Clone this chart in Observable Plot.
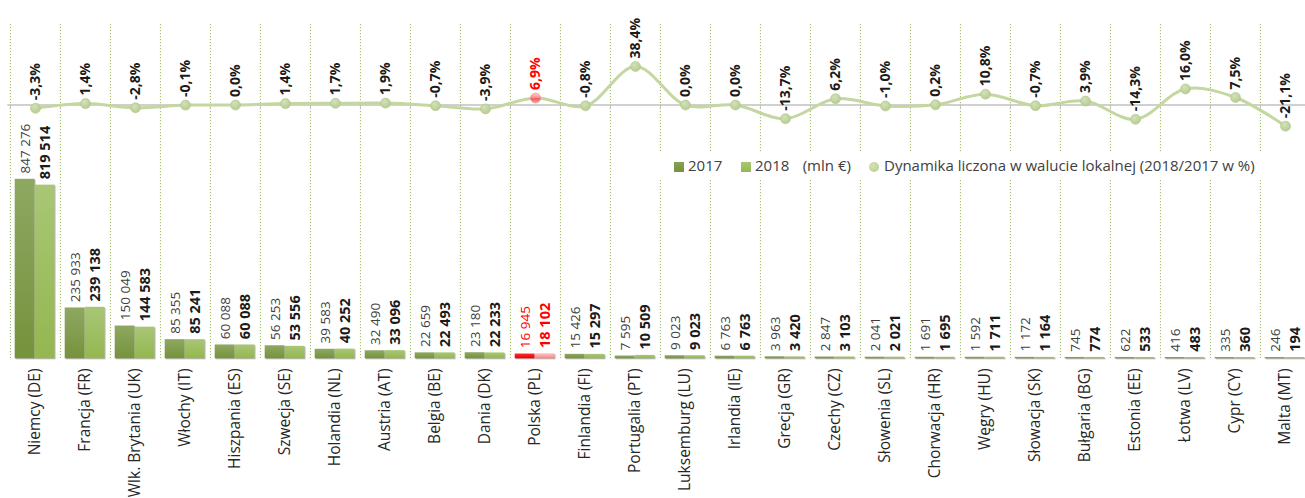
<!DOCTYPE html>
<html>
<head>
<meta charset="utf-8">
<script src="https://cdn.jsdelivr.net/npm/d3@7"></script>
<script src="https://cdn.jsdelivr.net/npm/@observablehq/plot@0.6"></script>
<style>
  html, body { margin: 0; padding: 0; background: white; }
  #wrap { position: relative; width: 1305px; height: 498px; overflow: hidden; font-family: "Open Sans", sans-serif; }
  #wrap svg { position: absolute; left: 0; top: 0; }
  .lg { position: absolute; font-size: 15px; line-height: 15px; color: #404040; white-space: nowrap; }
</style>
</head>
<body>
<div id="wrap"></div>
<script>
const countries = ["Niemcy (DE)", "Francja (FR)", "Wlk. Brytania (UK)", "Włochy (IT)", "Hiszpania (ES)", "Szwecja (SE)", "Holandia (NL)", "Austria (AT)", "Belgia (BE)", "Dania (DK)", "Polska (PL)", "Finlandia (FI)", "Portugalia (PT)", "Luksemburg (LU)", "Irlandia (IE)", "Grecja (GR)", "Czechy (CZ)", "Słowenia (SL)", "Chorwacja (HR)", "Węgry (HU)", "Słowacja (SK)", "Bułgaria (BG)", "Estonia (EE)", "Łotwa (LV)", "Cypr (CY)", "Malta (MT)"];
const values2017 = [847276, 235933, 150049, 85355, 60088, 56253, 39583, 32490, 22659, 23180, 16945, 15426, 7595, 9023, 6763, 3963, 2847, 2041, 1691, 1592, 1172, 745, 622, 416, 335, 246];
const values2018 = [819514, 239138, 144583, 85241, 60088, 53556, 40252, 33096, 22493, 22233, 18102, 15297, 10509, 9023, 6763, 3420, 3103, 2021, 1695, 1711, 1164, 774, 533, 483, 360, 194];
const dynamics = [-3.3, 1.4, -2.8, -0.1, 0.0, 1.4, 1.7, 1.9, -0.7, -3.9, 6.9, -0.8, 38.4, 0.0, 0.0, -13.7, 6.2, -1.0, 0.2, 10.8, -0.7, 3.9, -14.3, 16.0, 7.5, -21.1];
const highlight = "Polska (PL)";
const legendLabels = ["2017", "2018", "(mln €)", "Dynamika liczona w walucie lokalnej (2018/2017 w %)"];

const rows = countries.map((c, i) => ({c, v17: values2017[i], v18: values2018[i], d: dynamics[i]}));
const fmtNum = v => d3.format(",")(v).replace(/,/g, " ");
const fmtPct = v => v.toFixed(1).replace(".", ",") + "%";
const isPL = d => d.c === highlight;

const W = 1305, H = 498;
const X0 = 7.3, X1 = 1311.7;
const bw = (X1 - X0) / countries.length;
const xScale = {type: "band", domain: countries, range: [X0, X1], padding: 0};
const baseStyle = {background: "transparent", overflow: "visible", fontFamily: "Open Sans", fontSize: "15px", color: "#404040"};

const bars = Plot.plot({
  width: W, height: H,
  marginTop: 24, marginBottom: 140, marginLeft: X0, marginRight: W - X1,
  x: xScale,
  y: {domain: [0, 847276], range: [358.3, 180], axis: null},
  color: {type: "identity"},
  style: baseStyle,
  marks: [
    Plot.ruleX(countries, {x: d => d, dx: -bw / 2, stroke: "#9bbb59", strokeWidth: 1, strokeDasharray: "1.2,1.8"}),
    Plot.barY(rows, {x: "c", y: "v17", fill: d => isPL(d) ? "url(#gP17)" : "url(#g17)", insetLeft: 4.7, insetRight: bw - 24.7, insetTop: -1.2}),
    Plot.barY(rows, {x: "c", y: "v18", fill: d => isPL(d) ? "url(#gP18)" : "url(#g18)", insetLeft: 24.7, insetRight: bw - 44.7, insetTop: -1.2}),
    Plot.text(rows, {x: "c", y: "v17", text: d => fmtNum(d.v17), rotate: -90, textAnchor: "start", dx: -10.2, dy: -7, fontSize: 13.5, fill: d => isPL(d) ? "#ff0000" : "#404040"}),
    Plot.text(rows, {x: "c", y: "v18", text: d => fmtNum(d.v18), rotate: -90, textAnchor: "start", dx: 9.8, dy: -7, fontSize: 14.5, fontWeight: "bold", fill: d => isPL(d) ? "#ff0000" : "#1a1a1a"}),
    Plot.axisX({anchor: "bottom", tickRotate: -90, tickSize: 0, tickPadding: 10, fontSize: 15.5, label: null, fill: "#262626"})
  ]
});

const defs = document.createElementNS("http://www.w3.org/2000/svg", "defs");
defs.innerHTML = `
  <linearGradient id="g17" x1="0" y1="0" x2="0" y2="1"><stop offset="0" stop-color="#8ea862"/><stop offset="1" stop-color="#76923c"/></linearGradient>
  <linearGradient id="g18" x1="0" y1="0" x2="0" y2="1"><stop offset="0" stop-color="#a9c676"/><stop offset="1" stop-color="#94b74f"/></linearGradient>
  <linearGradient id="gP17" x1="0" y1="0" x2="0" y2="1"><stop offset="0" stop-color="#ff2a2a"/><stop offset="1" stop-color="#e60000"/></linearGradient>
  <linearGradient id="gP18" x1="0" y1="0" x2="0" y2="1"><stop offset="0" stop-color="#ffc4c4"/><stop offset="1" stop-color="#ff7f7f"/></linearGradient>
  <radialGradient id="gDot" cx="0.4" cy="0.35" r="0.7"><stop offset="0" stop-color="#d3e2b8"/><stop offset="1" stop-color="#b5ca8e"/></radialGradient>
  <linearGradient id="gDotP" x1="0" y1="0" x2="0" y2="1"><stop offset="0" stop-color="#ffd0d0"/><stop offset="0.45" stop-color="#ff8c8c"/><stop offset="0.55" stop-color="#f06060"/><stop offset="1" stop-color="#f7a6a6"/></linearGradient>`;
bars.prepend(defs);
bars.querySelectorAll('g[aria-label="bar"] rect').forEach(r => { r.style.filter = "drop-shadow(1px 1px 0.6px rgba(0,0,0,0.28))"; });

const line = Plot.plot({
  width: W, height: H,
  marginTop: 24, marginBottom: 140, marginLeft: X0, marginRight: W - X1,
  x: xScale,
  y: {domain: [0, 38.4], range: [104.5, 66]},
  color: {type: "identity"},
  style: baseStyle,
  axis: null,
  marks: [
    Plot.ruleY([0], {stroke: "#c0c0c0", strokeWidth: 1.5}),
    Plot.ruleX(countries, {x: d => d, dx: -bw / 2, y1: 0, y2: -4.5, stroke: "#c0c0c0", strokeWidth: 1}),
    Plot.line(rows, {x: "c", y: "d", curve: "catmull-rom", stroke: "#c4d7a0", strokeWidth: 3}),
    Plot.dot(rows, {x: "c", y: "d", r: 5, fill: d => isPL(d) ? "url(#gDotP)" : "url(#gDot)", stroke: d => isPL(d) ? "#e88a8a" : "#b3c68f", strokeWidth: 0.6}),
    Plot.text(rows, {x: "c", y: "d", text: d => fmtPct(d.d), rotate: -90, textAnchor: "start", dy: -8, dx: 0.5, fontSize: 14, fontWeight: "bold", fill: d => isPL(d) ? "#ff0000" : "#1a1a1a"})
  ]
});

const wrap = document.getElementById("wrap");
wrap.appendChild(bars);

// legend
const lg = document.createElement("div");
lg.style.cssText = "position:absolute;left:640px;top:152px;width:660px;height:28px;background:white;";
wrap.appendChild(lg);
function add(html, css) { const e = document.createElement("div"); e.className = "lg"; e.style.cssText += css; e.innerHTML = html; wrap.appendChild(e); }
add("", "left:674px;top:161.7px;width:10px;height:10px;background:linear-gradient(#86a152,#76923c);");
add(legendLabels[0], "left:688px;top:158.4px;");
add("", "left:740.7px;top:161.7px;width:10px;height:10px;background:linear-gradient(#a9c676,#94b74f);");
add(legendLabels[1], "left:755px;top:158.4px;");
add(legendLabels[2], "left:802.7px;top:158.4px;");
add("", "left:869.3px;top:161.7px;width:10px;height:10px;border-radius:50%;background:radial-gradient(circle at 40% 35%,#d3e2b8,#b5ca8e);");
add(legendLabels[3], "left:884px;top:158.4px;");

wrap.appendChild(line);
</script>
</body>
</html>
